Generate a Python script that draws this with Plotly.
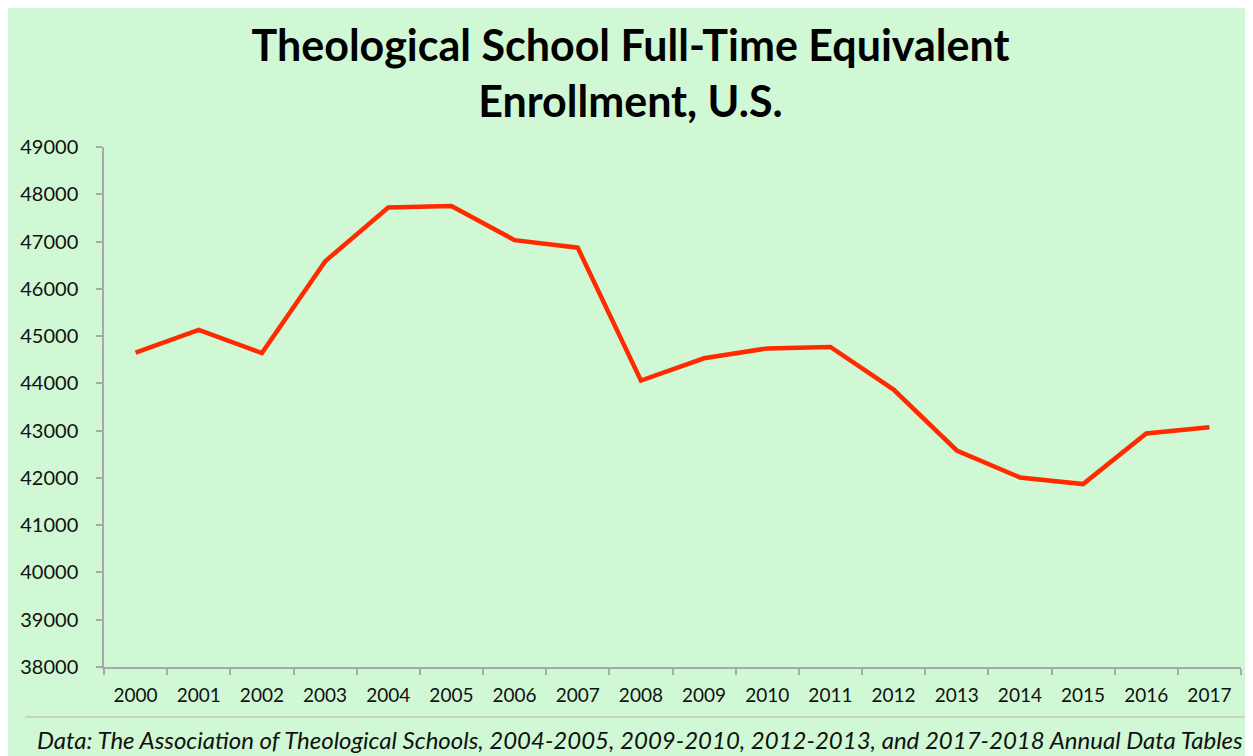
import plotly.graph_objects as go

years = ["2000", "2001", "2002", "2003", "2004", "2005", "2006", "2007", "2008",
         "2009", "2010", "2011", "2012", "2013", "2014", "2015", "2016", "2017"]
enrollment = [44650, 45130, 44640, 46580, 47720, 47750, 47030, 46870, 44060,
              44530, 44740, 44770, 43870, 42580, 42010, 41870, 42940, 43070]
y_ticks = list(range(38000, 49001, 1000))

title_text = "Theological School Full-Time Equivalent<br>Enrollment, U.S."
footer_text = ("Data: The Association of Theological Schools, 2004-2005, 2009-2010, "
               "2012-2013, and 2017-2018 Annual Data Tables")

W, H = 1245, 748
ML, MR, MT, MB = 80, 12, 139, 89
PW, PH = W - ML - MR, H - MT - MB

def px(x):
    return (x - ML) / PW

def py(y):
    return 1 - (y - MT) / PH

BG = "#d0f8d4"
AX = "#a8a8a8"
FONT = "Lato"

fig = go.Figure()
fig.add_trace(go.Scatter(
    x=years, y=enrollment, mode="lines",
    line=dict(color="#ff2a00", width=4.5),
    showlegend=False, hoverinfo="x+y",
))

fig.update_layout(
    width=W, height=H,
    margin=dict(l=ML, r=MR, t=MT, b=MB),
    paper_bgcolor=BG, plot_bgcolor=BG,
    font=dict(family=FONT, color="#111111"),
    title=dict(text=title_text, x=0.5, xref="container", xanchor="center",
               y=1 - 53 / H, yref="container", yanchor="top",
               font=dict(family=FONT, size=43, color="#000000", weight="bold")),
    xaxis=dict(type="category", range=[-0.5, len(years) - 0.5],
               tickson="boundaries", ticks="outside", ticklen=6, tickwidth=1.5,
               tickcolor=AX, showline=True, linecolor=AX, linewidth=1.5,
               showgrid=False, zeroline=False, ticklabelstandoff=10,
               tickfont=dict(family=FONT, size=19, color="#111111")),
    yaxis=dict(range=[38000, 49000], tickvals=y_ticks,
               ticktext=[str(v) for v in y_ticks],
               ticks="outside", ticklen=6, tickwidth=1.5, tickcolor=AX,
               showline=True, linecolor=AX, linewidth=1.5,
               showgrid=False, zeroline=False, ticklabelstandoff=14,
               tickfont=dict(family=FONT, size=20, color="#111111")),
    shapes=[dict(type="line", xref="paper", yref="paper",
                 x0=px(0), x1=px(W), y0=py(709), y1=py(709),
                 line=dict(color="#c4d4c4", width=2))],
    annotations=[dict(text=footer_text, xref="paper", yref="paper",
                      x=px(624), y=py(731), xanchor="center", yanchor="middle",
                      showarrow=False,
                      font=dict(family=FONT, size=24, color="#111111", style="italic"))],
)

fig.write_html("out.html")
